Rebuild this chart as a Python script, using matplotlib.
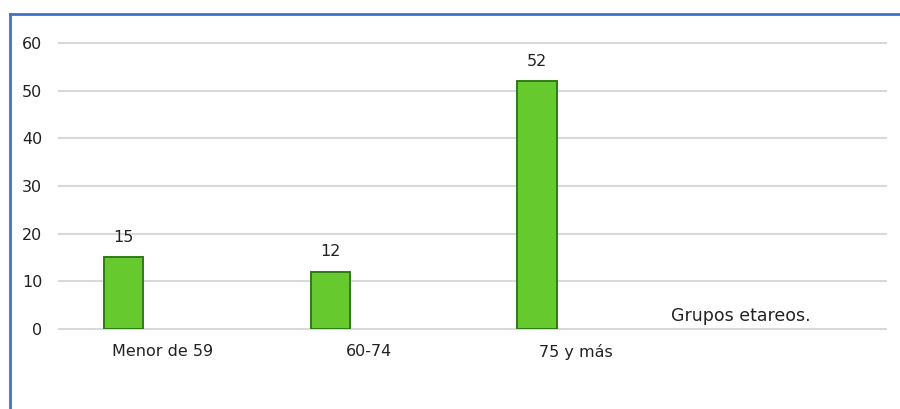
import matplotlib
matplotlib.use('Agg')
import matplotlib.pyplot as plt
from matplotlib.lines import Line2D

categories = ['Menor de 59', '60-74', '75 y más', '']
values = [15, 12, 52, None]
yticks = [0, 10, 20, 30, 40, 50, 60]
axis_title = 'Grupos etareos.'

GREEN = '#66c92e'
EDGE = '#2f7a16'
GRID = '#d9d9d9'
BORDER = '#4472c4'

fig = plt.figure(figsize=(9, 4.09), dpi=100)
ax = fig.add_axes([0.0656, 0.1956, 0.9188, 0.6993])

xs = [i for i, v in enumerate(values) if v is not None]
vs = [v for v in values if v is not None]
offset = -0.188
bars = ax.bar([x + offset for x in xs], vs, width=0.19, color=GREEN,
              edgecolor=EDGE, linewidth=1.4, zorder=3)
for b, v in zip(bars, vs):
    ax.annotate(str(v), (b.get_x() + b.get_width() / 2, v), xytext=(0, 9),
                textcoords='offset points', ha='center', va='bottom',
                fontsize=11.5, color='#222222')

ax.set_xlim(-0.5, len(categories) - 0.5)
ax.set_ylim(0, 60)
ax.set_yticks(yticks)
ax.set_xticks(range(len(categories)))
ax.set_xticklabels(categories)
ax.yaxis.grid(True, color=GRID, linewidth=1.5, zorder=0)
for gl in ax.get_ygridlines():
    gl.set_clip_on(False)
ax.set_axisbelow(True)
ax.tick_params(axis='both', length=0, labelsize=11.5, colors='#222222')
ax.tick_params(axis='y', pad=12)
ax.tick_params(axis='x', pad=11)
for s in ax.spines.values():
    s.set_visible(False)

ax.text(2.798, 0.8, axis_title, ha='center', va='bottom', fontsize=12.5,
        color='#222222')

# chart frame (only top and left edges visible in the crop)
top = 1 - 14 / 409
left = 10 / 900
fig.add_artist(Line2D([left, 1], [top, top], color=BORDER, lw=2,
                      transform=fig.transFigure))
fig.add_artist(Line2D([left, left], [0, top], color=BORDER, lw=2,
                      transform=fig.transFigure))

plt.savefig('out.png', dpi=100, facecolor='white')
plt.close()
